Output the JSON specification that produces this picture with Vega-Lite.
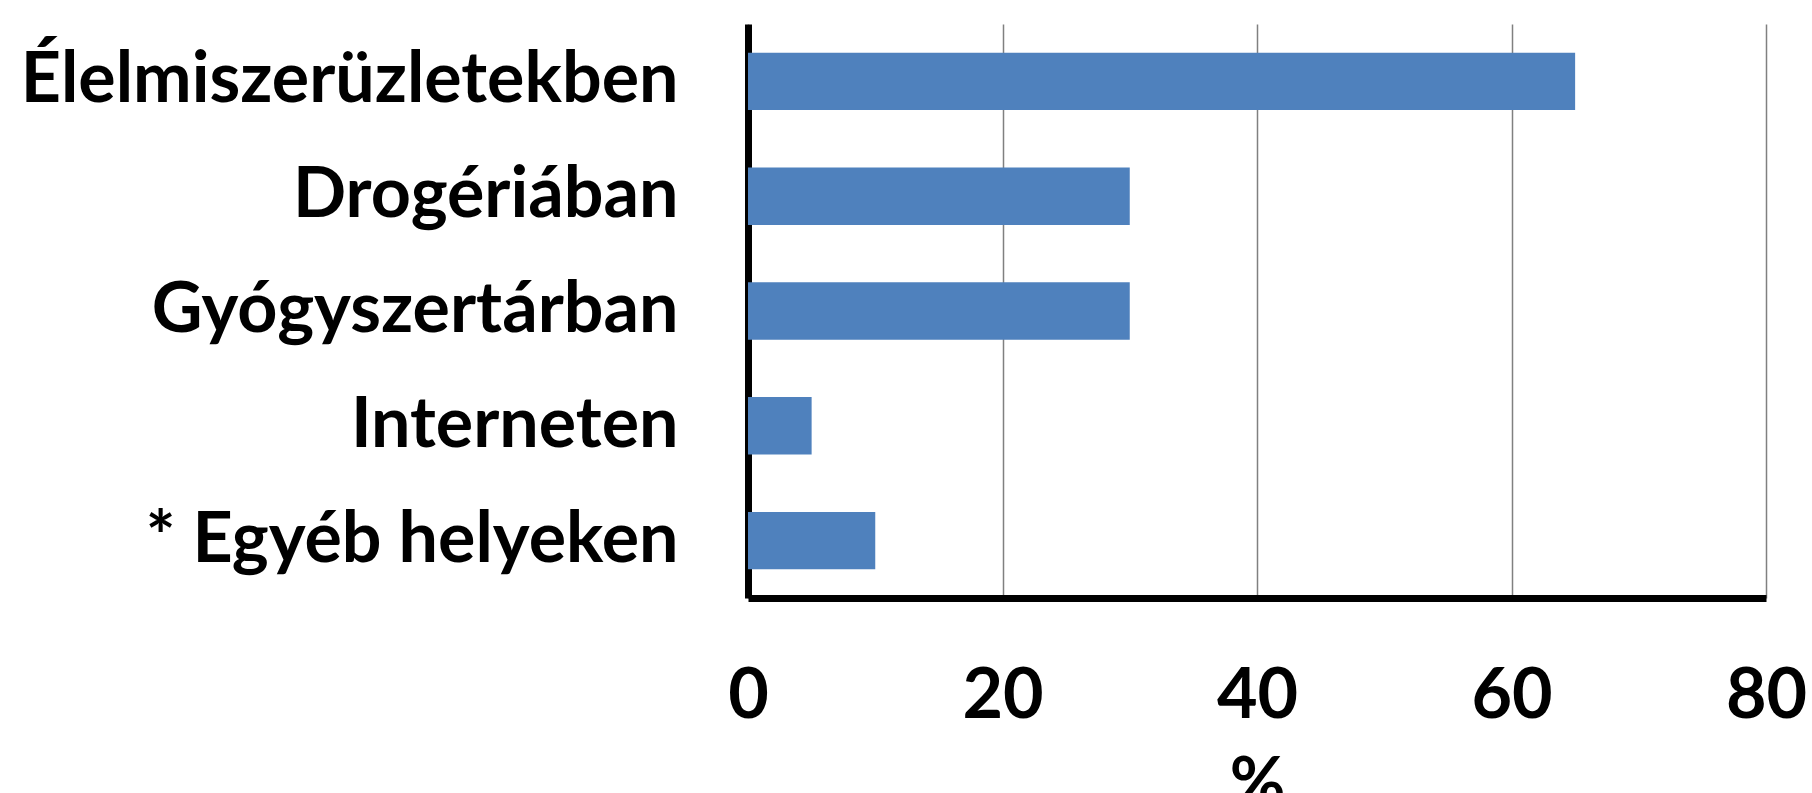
{
  "$schema": "https://vega.github.io/schema/vega-lite/v6.json",
  "autosize": {"type": "none"},
  "padding": {"left": 748, "top": 24, "right": 46, "bottom": 195},
  "width": 1018,
  "height": 574,
  "background": "white",
  "data": {"values": [
    {"hely": "Élelmiszerüzletekben", "szazalek": 65},
    {"hely": "Drogériában", "szazalek": 30},
    {"hely": "Gyógyszertárban", "szazalek": 30},
    {"hely": "Interneten", "szazalek": 5},
    {"hely": "* Egyéb helyeken", "szazalek": 10}
  ]},
  "mark": {"type": "bar", "color": "#4F81BD"},
  "encoding": {
    "y": {
      "field": "hely", "type": "nominal", "sort": null, "title": null,
      "scale": {"paddingInner": 0.5, "paddingOuter": 0.25},
      "axis": {
        "domainColor": "black", "domainWidth": 7, "ticks": false,
        "labelFont": "Lato", "labelFontWeight": "bold", "labelFontSize": 70,
        "labelColor": "black", "labelPadding": 70, "labelLimit": 1000, "grid": false
      }
    },
    "x": {
      "field": "szazalek", "type": "quantitative", "title": "%",
      "scale": {"domain": [0, 80], "nice": false},
      "axis": {
        "values": [0, 20, 40, 60, 80],
        "domainColor": "black", "domainWidth": 7, "ticks": false,
        "grid": true, "gridColor": "#808080", "gridWidth": 1.5,
        "labelFont": "Lato", "labelFontWeight": "bold", "labelFontSize": 70,
        "labelColor": "black", "labelPadding": 64, "labelFlush": false,
        "titleFont": "Lato", "titleFontWeight": "bold", "titleFontSize": 68,
        "titleColor": "black", "titlePadding": 20
      }
    }
  },
  "config": {"view": {"stroke": null}}
}
